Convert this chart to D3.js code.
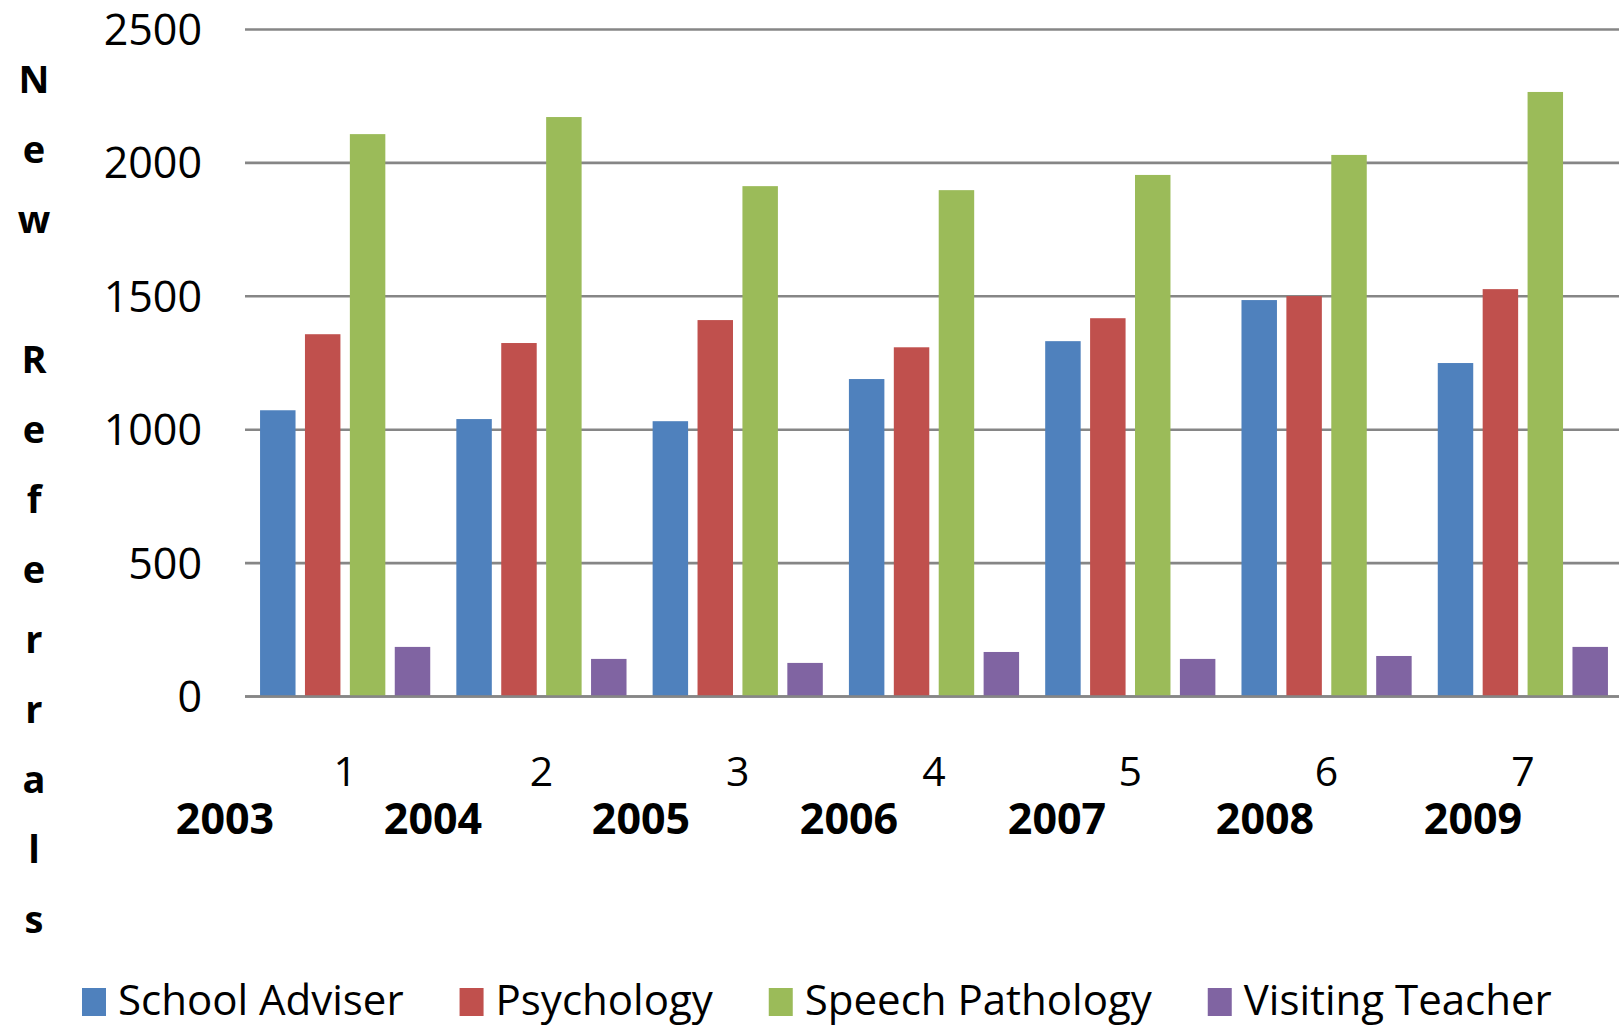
<!DOCTYPE html>
<html>
<head>
<meta charset="utf-8">
<script src="https://cdn.jsdelivr.net/npm/d3@7"></script>
<style>
  body { margin: 0; background: #fff; }
  svg { display: block; font-family: 'Open Sans', sans-serif; }
</style>
</head>
<body>
<div id="chart"></div>
<script>
// data
const periods = ['1', '2', '3', '4', '5', '6', '7'];
const years = ['2003', '2004', '2005', '2006', '2007', '2008', '2009'];
const seriesNames = ['School Adviser', 'Psychology', 'Speech Pathology', 'Visiting Teacher'];
const schoolAdviser = [1071, 1038, 1030, 1188, 1330, 1484, 1248];
const psychology = [1356, 1323, 1409, 1307, 1416, 1499, 1525];
const speechPathology = [2106, 2170, 1911, 1896, 1953, 2028, 2264];
const visitingTeacher = [184, 139, 124, 165, 139, 150, 184];
const yTicks = [0, 500, 1000, 1500, 2000, 2500];
const yTitle = 'New Referrals';

const colors = ['#4F81BD', '#C0504D', '#9BBB59', '#8064A2'];
const seriesValues = [schoolAdviser, psychology, speechPathology, visitingTeacher];

const W = 1619, H = 1026;
const left = 245, right = 1619;

const svg = d3.select('#chart')
  .append('svg')
  .attr('width', W)
  .attr('height', H);

svg.append('rect').attr('width', W).attr('height', H).attr('fill', '#fff');

const y = d3.scaleLinear().domain([0, 2500]).range([696, 29]);

const x0 = d3.scaleBand()
  .domain(periods)
  .range([left + 2, right + 2])
  .paddingInner(0.133)
  .paddingOuter(0.0665);

const x1 = d3.scaleBand()
  .domain(seriesNames)
  .range([0, x0.bandwidth()])
  .paddingInner(0.21);

// gridlines + y labels
const yAxis = svg.append('g')
  .attr('transform', `translate(${left},0)`)
  .call(d3.axisLeft(y).tickValues(yTicks).tickFormat(d3.format('d'))
    .tickSize(-(right - left)).tickPadding(43));
yAxis.select('.domain').remove();
yAxis.selectAll('line').attr('stroke', '#868686').attr('stroke-width', 2.6);
yAxis.selectAll('text')
  .attr('font-family', "'Open Sans', sans-serif")
  .attr('font-size', 43)
  .attr('fill', '#000')
  .attr('dy', '0.36em');

// bars
const rows = periods.map((p, i) => ({ p, vals: seriesNames.map((s, j) => ({ s, v: seriesValues[j][i], c: colors[j] })) }));

const groups = svg.append('g').selectAll('g')
  .data(rows)
  .join('g')
  .attr('transform', d => `translate(${x0(d.p)},0)`);

groups.selectAll('rect')
  .data(d => d.vals)
  .join('rect')
  .attr('x', d => x1(d.s))
  .attr('width', x1.bandwidth())
  .attr('y', d => y(d.v))
  .attr('height', d => y(0) - y(d.v))
  .attr('fill', d => d.c);

// baseline over the bars
svg.append('line')
  .attr('x1', left).attr('x2', right)
  .attr('y1', y(0) + 0.5).attr('y2', y(0) + 0.5)
  .attr('stroke', '#868686').attr('stroke-width', 2.6);

// category numbers
svg.append('g').selectAll('text')
  .data(periods)
  .join('text')
  .attr('x', d => x0(d) + x0.bandwidth() / 2)
  .attr('y', 786)
  .attr('text-anchor', 'middle')
  .attr('font-size', 41)
  .text(d => d);

// year line under the numbers
const xYear = d3.scalePoint().domain(years).range([225, 1473]);
svg.append('g').selectAll('text')
  .data(years)
  .join('text')
  .attr('x', d => xYear(d))
  .attr('y', 834)
  .attr('text-anchor', 'middle')
  .attr('font-size', 43)
  .attr('font-weight', 'bold')
  .text(d => d);

// y title, one letter per line
svg.append('text')
  .attr('font-size', 38)
  .attr('font-weight', 'bold')
  .attr('text-anchor', 'middle')
  .selectAll('tspan')
  .data(yTitle.split(''))
  .join('tspan')
  .attr('x', 34)
  .attr('y', (d, i) => 93 + i * 70)
  .text(d => d === ' ' ? '\u00a0' : d);

// legend
const legend = svg.append('g');
let lx = 82;
seriesNames.forEach((name, i) => {
  legend.append('rect')
    .attr('x', lx).attr('y', 988)
    .attr('width', 24).attr('height', 28)
    .attr('fill', colors[i]);
  const t = legend.append('text')
    .attr('x', lx + 36).attr('y', 1015)
    .attr('font-size', 42)
    .text(name);
  const w = t.node().getComputedTextLength();
  lx += 36 + w + 56;
});
</script>
</body>
</html>
